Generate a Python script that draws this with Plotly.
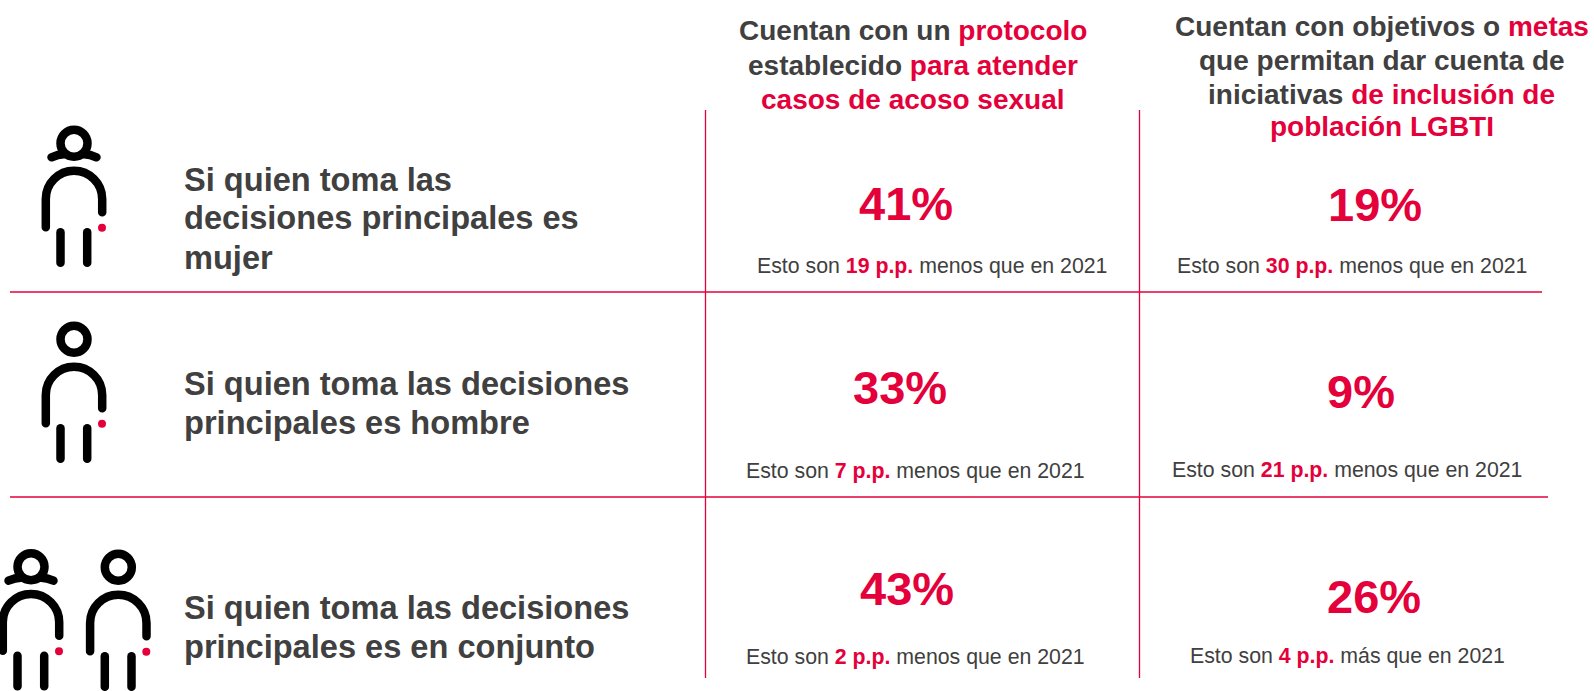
import plotly.graph_objects as go

RED = "#E4003A"
GREY = "#404040"
FONT = "Liberation Sans"

row_labels = [
    ["Si quien toma las", "decisiones principales es", "mujer"],
    ["Si quien toma las decisiones", "principales es hombre"],
    ["Si quien toma las decisiones", "principales es en conjunto"],
]
col1_header = [
    f"Cuentan con un <span style='color:{RED}'>protocolo</span>",
    f"establecido <span style='color:{RED}'>para atender</span>",
    f"<span style='color:{RED}'>casos de acoso sexual</span>",
]
col2_header = [
    f"Cuentan con objetivos o <span style='color:{RED}'>metas</span>",
    "que permitan dar cuenta de",
    f"iniciativas <span style='color:{RED}'>de inclusión de</span>",
    f"<span style='color:{RED}'>población LGBTI</span>",
]
col1_values = [41, 33, 43]
col2_values = [19, 9, 26]
col1_pp = [19, 7, 2]
col2_pp = [30, 21, 4]
col1_dir = ["menos", "menos", "menos"]
col2_dir = ["menos", "menos", "más"]

fig = go.Figure()


def text(x, y, s, size, color=GREY, bold=True, anchor="center"):
    fig.add_annotation(
        x=x, y=y, xref="x", yref="y", text=f"<b>{s}</b>" if bold else s,
        showarrow=False, xanchor=anchor, yanchor="middle",
        font=dict(family=FONT, size=size, color=color),
        align=anchor, borderpad=0, borderwidth=0,
    )


def line(x0, y0, x1, y1):
    fig.add_shape(type="line", x0=x0, y0=y0, x1=x1, y1=y1, xref="x", yref="y",
                  line=dict(color=RED, width=1.3), layer="below")


def person(cx, cy, woman=False):
    k = dict(color="#000000", width=8.5)
    fig.add_shape(type="circle", x0=cx - 13.5, x1=cx + 13.5, y0=cy - 13.5, y1=cy + 13.5,
                  line=k, xref="x", yref="y")
    fig.add_shape(
        type="path", xref="x", yref="y", line=k,
        path=(f"M {cx-28.2} {cy+84} L {cx-28.2} {cy+55.6} "
              f"C {cx-28.2} {cy+40} {cx-15.5} {cy+27.4} {cx} {cy+27.4} "
              f"C {cx+15.5} {cy+27.4} {cx+28.2} {cy+40} {cx+28.2} {cy+55.6} "
              f"L {cx+28.2} {cy+69}"))
    if woman:
        fig.add_shape(type="path", xref="x", yref="y", line=k,
                      path=(f"M {cx-22.5} {cy+14} Q {cx-16} {cy+11} {cx-10} {cy+11}"))
        fig.add_shape(type="path", xref="x", yref="y", line=k,
                      path=(f"M {cx+22.5} {cy+14} Q {cx+16} {cy+11} {cx+10} {cy+11}"))
    for dx in (-13.5, 13.2):
        fig.add_shape(type="line", x0=cx + dx, x1=cx + dx, y0=cy + 89, y1=cy + 119.5,
                      line=k, xref="x", yref="y")
    fig.add_shape(type="circle", x0=cx + 24, x1=cx + 32, y0=cy + 80.5, y1=cy + 88.5,
                  fillcolor=RED, line=dict(width=0), xref="x", yref="y")


# Grid rules
line(10, 292, 1542, 292)
line(10, 497, 1548, 497)
line(705.5, 110, 705.5, 678)
line(1139.5, 110, 1139.5, 678)

# Icons
person(74, 143.3, woman=True)
person(74, 339.3)
person(31, 566.7, woman=True)
person(118.3, 567.3)

# Column headers
for y, s in zip([30.5, 65, 99.6], col1_header):
    text(913, y, s, 28)
for y, s in zip([26.5, 60, 94.5, 126], col2_header):
    text(1381.6, y, s, 28)

# Row labels
for ys, lines in zip([[179, 217.6, 257], [383, 422], [607, 646.6]], row_labels):
    for y, s in zip(ys, lines):
        text(184, y, s, 32.6, anchor="left")

# Values
c1_vx, c1_vy = [906, 900, 907], [203, 387, 588]
c2_vx, c2_vy = [1374.5, 1360.5, 1373.5], [204, 391, 596]
for vals, xs, ys in ((col1_values, c1_vx, c1_vy), (col2_values, c2_vx, c2_vy)):
    for v, x, y in zip(vals, xs, ys):
        text(x, y, f"{v}%", 47, color=RED)

# Notes
c1_nx, c1_ny = [932, 915, 915], [266, 471, 657]
c2_nx, c2_ny = [1351.6, 1347, 1347], [266, 470, 656]
for pps, dirs, xs, ys in ((col1_pp, col1_dir, c1_nx, c1_ny), (col2_pp, col2_dir, c2_nx, c2_ny)):
    for p, d, x, y in zip(pps, dirs, xs, ys):
        s = f"Esto son <b><span style='color:{RED}'>{p} p.p.</span></b> {d} que en 2021"
        text(x, y, s, 21.3, bold=False)

fig.update_layout(
    width=1594, height=691, autosize=False,
    margin=dict(l=0, r=0, t=0, b=0),
    paper_bgcolor="white", plot_bgcolor="white", showlegend=False,
    xaxis=dict(range=[0, 1594], visible=False, fixedrange=True),
    yaxis=dict(range=[691, 0], visible=False, fixedrange=True),
)
post = """
document.body.style.margin='0';
document.querySelectorAll('.shapelayer path').forEach(function(p){
  if (p.style.stroke && p.style.stroke.indexOf('0, 0, 0') >= 0) {
    p.style.strokeLinecap = 'round';
  }
});
"""
fig.write_html("out.html", post_script=post, config={"displayModeBar": False})
